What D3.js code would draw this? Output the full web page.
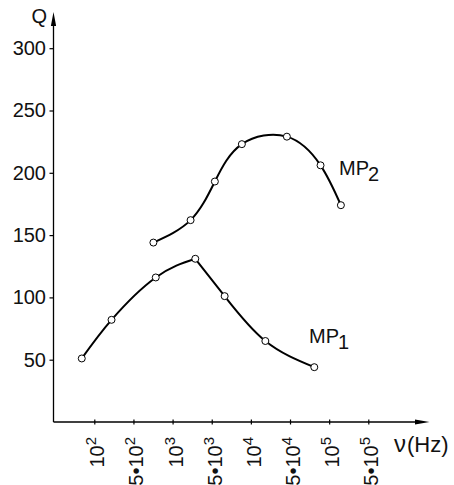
<!DOCTYPE html>
<html>
<head>
<meta charset="utf-8">
<script src="https://cdn.jsdelivr.net/npm/d3@7"></script>
<style>
  html, body { margin: 0; padding: 0; background: #fff; }
  svg { display: block; font-family: "Liberation Sans", Arial, sans-serif; }
</style>
</head>
<body>
<svg id="chart" width="454" height="485"></svg>
<script>
// Frequency axis: evenly spaced ticks labelled mantissa·10^exponent
const tickMantissa = [1, 5, 1, 5, 1, 5, 1, 5];
const tickExponent = [2, 2, 3, 3, 4, 4, 5, 5];
const yTicks = [50, 100, 150, 200, 250, 300];

// Measured points: position along the frequency axis (in tick steps from 10^2) and Q
const mp1Pos = [-0.32, 0.44, 1.57, 2.58, 3.33, 4.37, 5.62];
const mp1Q   = [51, 82, 116, 131, 101, 65, 44];
const mp2Pos = [1.51, 2.46, 3.08, 3.77, 4.92, 5.78, 6.30];
const mp2Q   = [144, 162, 193, 223, 229, 206, 174];

const svg = d3.select("#chart");
const x = d3.scaleLinear().domain([0, 7]).range([94.3, 368.3]);
const y = d3.scaleLinear().domain([0, 300]).range([422, 48.2]);
const x0 = 53.5, y0 = y(0);

// Axis lines with arrowheads
svg.append("line").attr("x1", x0).attr("y1", y0).attr("x2", x0).attr("y2", 20)
  .attr("stroke", "#000").attr("stroke-width", 1.3);
svg.append("path").attr("d", `M${x0},12 L${x0 - 2.6},26 L${x0 + 2.6},26 Z`).attr("fill", "#000");
svg.append("line").attr("x1", x0).attr("y1", y0).attr("x2", 420).attr("y2", y0)
  .attr("stroke", "#000").attr("stroke-width", 1.3);
svg.append("path").attr("d", `M429.5,${y0} L415,${y0 - 2.6} L415,${y0 + 2.6} Z`).attr("fill", "#000");

// Y axis ticks and labels
const yAxis = svg.append("g").attr("transform", `translate(${x0},0)`)
  .call(d3.axisLeft(y).tickValues(yTicks).tickSize(4).tickPadding(3.5));
yAxis.select(".domain").remove();
yAxis.selectAll("line").attr("stroke-width", 1.2);
yAxis.selectAll("text").attr("font-size", 20).attr("font-family", "Liberation Sans, Arial, sans-serif")
  .attr("fill", "#111");

// X axis ticks (crossing the axis line)
const idx = d3.range(tickMantissa.length);
const xAxis = svg.append("g").attr("transform", `translate(0,${y0})`)
  .call(d3.axisBottom(x).tickValues(idx).tickSize(3).tickFormat(""));
xAxis.select(".domain").remove();
xAxis.selectAll("line").attr("y1", -2.5).attr("y2", 2.5).attr("stroke-width", 1.2);

// Rotated tick labels
const labels = svg.append("g").selectAll("text").data(idx).join("text")
  .attr("transform", i => `translate(${x(i) + 10},437) rotate(-90)`)
  .attr("text-anchor", "end")
  .attr("font-size", 20)
  .attr("fill", "#111");
labels.append("tspan").text(i => (tickMantissa[i] === 1 ? "" : tickMantissa[i] + "\u2022") + "10");
labels.append("tspan").attr("font-size", 15).attr("dy", -8).text(i => tickExponent[i]);

// Axis titles
svg.append("text").attr("x", 47).attr("y", 23).attr("text-anchor", "end")
  .attr("font-size", 20).attr("fill", "#111").text("Q");
svg.append("text").attr("x", 394).attr("y", 452).attr("font-size", 24).attr("fill", "#111").text("\u03BD");
svg.append("text").attr("x", 407).attr("y", 452).attr("font-size", 22).attr("fill", "#111").text("(Hz)");

// Curves
const line = (curve) => d3.line().x(d => x(d[0])).y(d => y(d[1])).curve(curve);
const mp1 = mp1Pos.map((p, i) => [p, mp1Q[i]]);
const mp2 = mp2Pos.map((p, i) => [p, mp2Q[i]]);
const g = svg.append("g").attr("fill", "none").attr("stroke", "#000").attr("stroke-width", 2);
g.append("path").attr("d", line(d3.curveNatural)(mp1.slice(0, 4)));
g.append("path").attr("d", line(d3.curveNatural)(mp1.slice(3)));
g.append("path").attr("d", line(d3.curveNatural)(mp2));

// Markers
svg.append("g").selectAll("circle").data(mp1.concat(mp2)).join("circle")
  .attr("cx", d => x(d[0])).attr("cy", d => y(d[1])).attr("r", 3.5)
  .attr("fill", "#fff").attr("stroke", "#000").attr("stroke-width", 1);

// Series labels
function seriesLabel(px, py, sub) {
  const t = svg.append("text").attr("x", px).attr("y", py).attr("font-size", 20).attr("fill", "#111");
  t.append("tspan").text("MP");
  t.append("tspan").attr("dy", 6).attr("dx", -1).text(sub);
}
seriesLabel(339, 175, "2");
seriesLabel(309, 343, "1");
</script>
</body>
</html>
